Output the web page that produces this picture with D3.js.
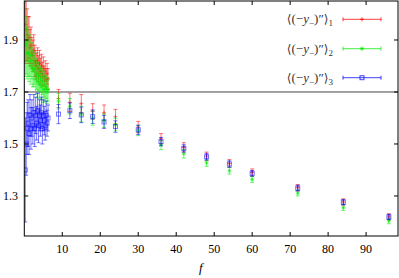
<!DOCTYPE html>
<html><head><meta charset="utf-8">
<script src="https://cdn.jsdelivr.net/npm/d3@7"></script>
<style>body{margin:0;background:#fff}svg{display:block}</style>
</head><body>
<script>
const fVals = [0.25,0.5,0.75,1,1.25,1.5,1.75,2,2.25,2.5,2.75,3,3.25,3.5,3.75,4,4.25,4.5,4.75,5,5.25,5.5,5.75,6,6.25,
  9,12,15,18,21,24,30,36,42,48,54,60,72,84,96];
const s1 = [1.96,1.94,1.92,1.90,1.91,1.87,1.88,1.85,1.84,1.86,1.82,1.81,1.80,1.82,1.79,1.81,1.78,1.80,1.77,1.79,1.76,1.78,1.75,1.77,1.75,
  1.675,1.66,1.655,1.625,1.62,1.605,1.565,1.52,1.487,1.453,1.425,1.39,1.332,1.277,1.22];
const e1 = [0.15,0.12,0.10,0.09,0.08,0.07,0.07,0.06,0.06,0.06,0.06,0.05,0.05,0.05,0.05,0.05,0.05,0.045,0.045,0.045,0.04,0.04,0.04,0.04,0.04,
  0.035,0.035,0.035,0.03,0.03,0.028,0.022,0.02,0.018,0.016,0.015,0.014,0.012,0.012,0.012];
const s2 = [1.89,1.88,1.85,1.85,1.82,1.84,1.80,1.82,1.79,1.78,1.79,1.75,1.77,1.74,1.76,1.73,1.75,1.72,1.74,1.71,1.73,1.71,1.72,1.70,1.71,
  1.665,1.645,1.615,1.60,1.59,1.575,1.552,1.496,1.462,1.428,1.397,1.364,1.311,1.255,1.204];
const e2 = [0.13,0.11,0.10,0.09,0.08,0.08,0.07,0.07,0.07,0.06,0.06,0.06,0.06,0.06,0.055,0.055,0.05,0.05,0.05,0.05,0.05,0.045,0.045,0.045,0.045,
  0.03,0.03,0.03,0.028,0.026,0.024,0.02,0.018,0.016,0.014,0.013,0.012,0.011,0.011,0.011];
const s3 = [1.40,1.50,1.56,1.58,1.54,1.61,1.56,1.60,1.57,1.62,1.56,1.61,1.58,1.63,1.57,1.61,1.59,1.62,1.56,1.61,1.59,1.57,1.61,1.58,1.60,
  1.615,1.628,1.612,1.605,1.585,1.567,1.554,1.509,1.483,1.451,1.423,1.387,1.33,1.276,1.219];
const e3 = [0.20,0.12,0.10,0.09,0.08,0.08,0.08,0.07,0.07,0.07,0.07,0.07,0.065,0.065,0.065,0.06,0.06,0.06,0.06,0.06,0.055,0.055,0.055,0.05,0.05,
  0.037,0.03,0.03,0.026,0.025,0.022,0.018,0.016,0.014,0.013,0.012,0.011,0.011,0.01,0.01];
const xTicks = [10,20,30,40,50,60,70,80,90];
const yTicks = [1.3,1.5,1.7,1.9];
const refLine = 1.7;
const seriesNames = ["1","2","3"];
const colors = ["#ff0000","#00ee00","#0000ff"];

const W=399,H=278;
const svg=d3.select("body").append("svg").attr("width",W).attr("height",H);
const x=d3.scaleLinear().domain([0,98.4]).range([24.3,398]);
const y=d3.scaleLinear().domain([1.146,2.05]).range([236,1]);
const font="'Liberation Serif','Times New Roman','DejaVu Serif',serif";

const defs=svg.append("defs");
defs.append("clipPath").attr("id","c").append("rect").attr("x",24.3).attr("y",1).attr("width",398-24.3).attr("height",235);

svg.append("line").attr("x1",x.range()[0]).attr("x2",x.range()[1]).attr("y1",y(refLine)).attr("y2",y(refLine))
  .attr("stroke","#444").attr("stroke-width",1);

const series=[[s1,e1],[s2,e2],[s3,e3]];
const g=svg.append("g").attr("clip-path","url(#c)");
series.forEach(([v,e],k)=>{
  const sg=g.append("g").attr("stroke",colors[k]).attr("fill","none").attr("stroke-opacity",0.55).attr("stroke-width",1);
  fVals.forEach((f,i)=>{
    const cx=x(f), cy=y(v[i]), t=y(v[i]+e[i]), b=y(v[i]-e[i]);
    sg.append("line").attr("x1",cx).attr("x2",cx).attr("y1",t).attr("y2",b);
    sg.append("line").attr("x1",cx-2).attr("x2",cx+2).attr("y1",t).attr("y2",t);
    sg.append("line").attr("x1",cx-2).attr("x2",cx+2).attr("y1",b).attr("y2",b);
    if(k===0){
      sg.append("path").attr("d",`M${cx-2},${cy}h4M${cx},${cy-2}v4`);
    } else if(k===1){
      sg.append("path").attr("d",`M${cx-2},${cy}h4M${cx},${cy-2}v4M${cx-1.5},${cy-1.5}l3,3M${cx-1.5},${cy+1.5}l3,-3`);
    } else {
      sg.append("rect").attr("x",cx-2).attr("y",cy-2).attr("width",4).attr("height",4);
    }
  });
});

const [x0,x1]=x.range(), [y0,y1]=[236,1];
svg.append("rect").attr("x",x0).attr("y",y1).attr("width",x1-x0).attr("height",y0-y1)
  .attr("fill","none").attr("stroke","#000").attr("stroke-width",1);
const tk=svg.append("g").attr("stroke","#000").attr("stroke-width",1);
xTicks.forEach(t=>{
  tk.append("line").attr("x1",x(t)).attr("x2",x(t)).attr("y1",y0).attr("y2",y0-4);
  tk.append("line").attr("x1",x(t)).attr("x2",x(t)).attr("y1",y1).attr("y2",y1+4);
});
yTicks.forEach(t=>{
  tk.append("line").attr("x1",x0).attr("x2",x0+4).attr("y1",y(t)).attr("y2",y(t));
  tk.append("line").attr("x1",x1).attr("x2",x1-4).attr("y1",y(t)).attr("y2",y(t));
});
const lab=svg.append("g").attr("font-family",font).attr("font-size",12).attr("fill","#000");
xTicks.forEach(t=>lab.append("text").attr("x",x(t)).attr("y",253).attr("text-anchor","middle").text(t));
yTicks.forEach(t=>lab.append("text").attr("x",18).attr("y",y(t)+4).attr("text-anchor","end").text(t.toFixed(1)));
lab.append("text").attr("x",x(46.5)).attr("y",272).attr("text-anchor","middle").attr("font-style","italic").attr("font-size",13).text("f");

const legY=[19.3,48.7,77.7];
seriesNames.forEach((n,k)=>{
  const ly=legY[k];
  const t=svg.append("text").attr("x",333).attr("y",ly+4).attr("text-anchor","end")
    .attr("font-family",font).attr("font-size",13).attr("fill","#333");
  t.append("tspan").attr("font-family","'DejaVu Sans',sans-serif").attr("font-size",12).text("⟨");
  t.append("tspan").text("(−");
  t.append("tspan").attr("font-style","italic").text("y");
  t.append("tspan").attr("font-size",9).attr("dy",3).text("−");
  t.append("tspan").attr("dy",-3).text(")″");
  t.append("tspan").attr("font-family","'DejaVu Sans',sans-serif").attr("font-size",12).text("⟩");
  t.append("tspan").attr("font-size",9).attr("dy",3).text(n);
  const lg=svg.append("g").attr("stroke",colors[k]).attr("fill","none").attr("stroke-opacity",0.75);
  lg.append("line").attr("x1",343).attr("x2",381).attr("y1",ly).attr("y2",ly);
  lg.append("line").attr("x1",343).attr("x2",343).attr("y1",ly-2).attr("y2",ly+2);
  lg.append("line").attr("x1",381).attr("x2",381).attr("y1",ly-2).attr("y2",ly+2);
  const cx=362;
  if(k===0) lg.append("path").attr("d",`M${cx-2},${ly}h4M${cx},${ly-2}v4`);
  else if(k===1) lg.append("path").attr("d",`M${cx-2},${ly}h4M${cx},${ly-2}v4M${cx-1.5},${ly-1.5}l3,3M${cx-1.5},${ly+1.5}l3,-3`);
  else lg.append("rect").attr("x",cx-2).attr("y",ly-2).attr("width",4).attr("height",4);
});
</script>
</body></html>
